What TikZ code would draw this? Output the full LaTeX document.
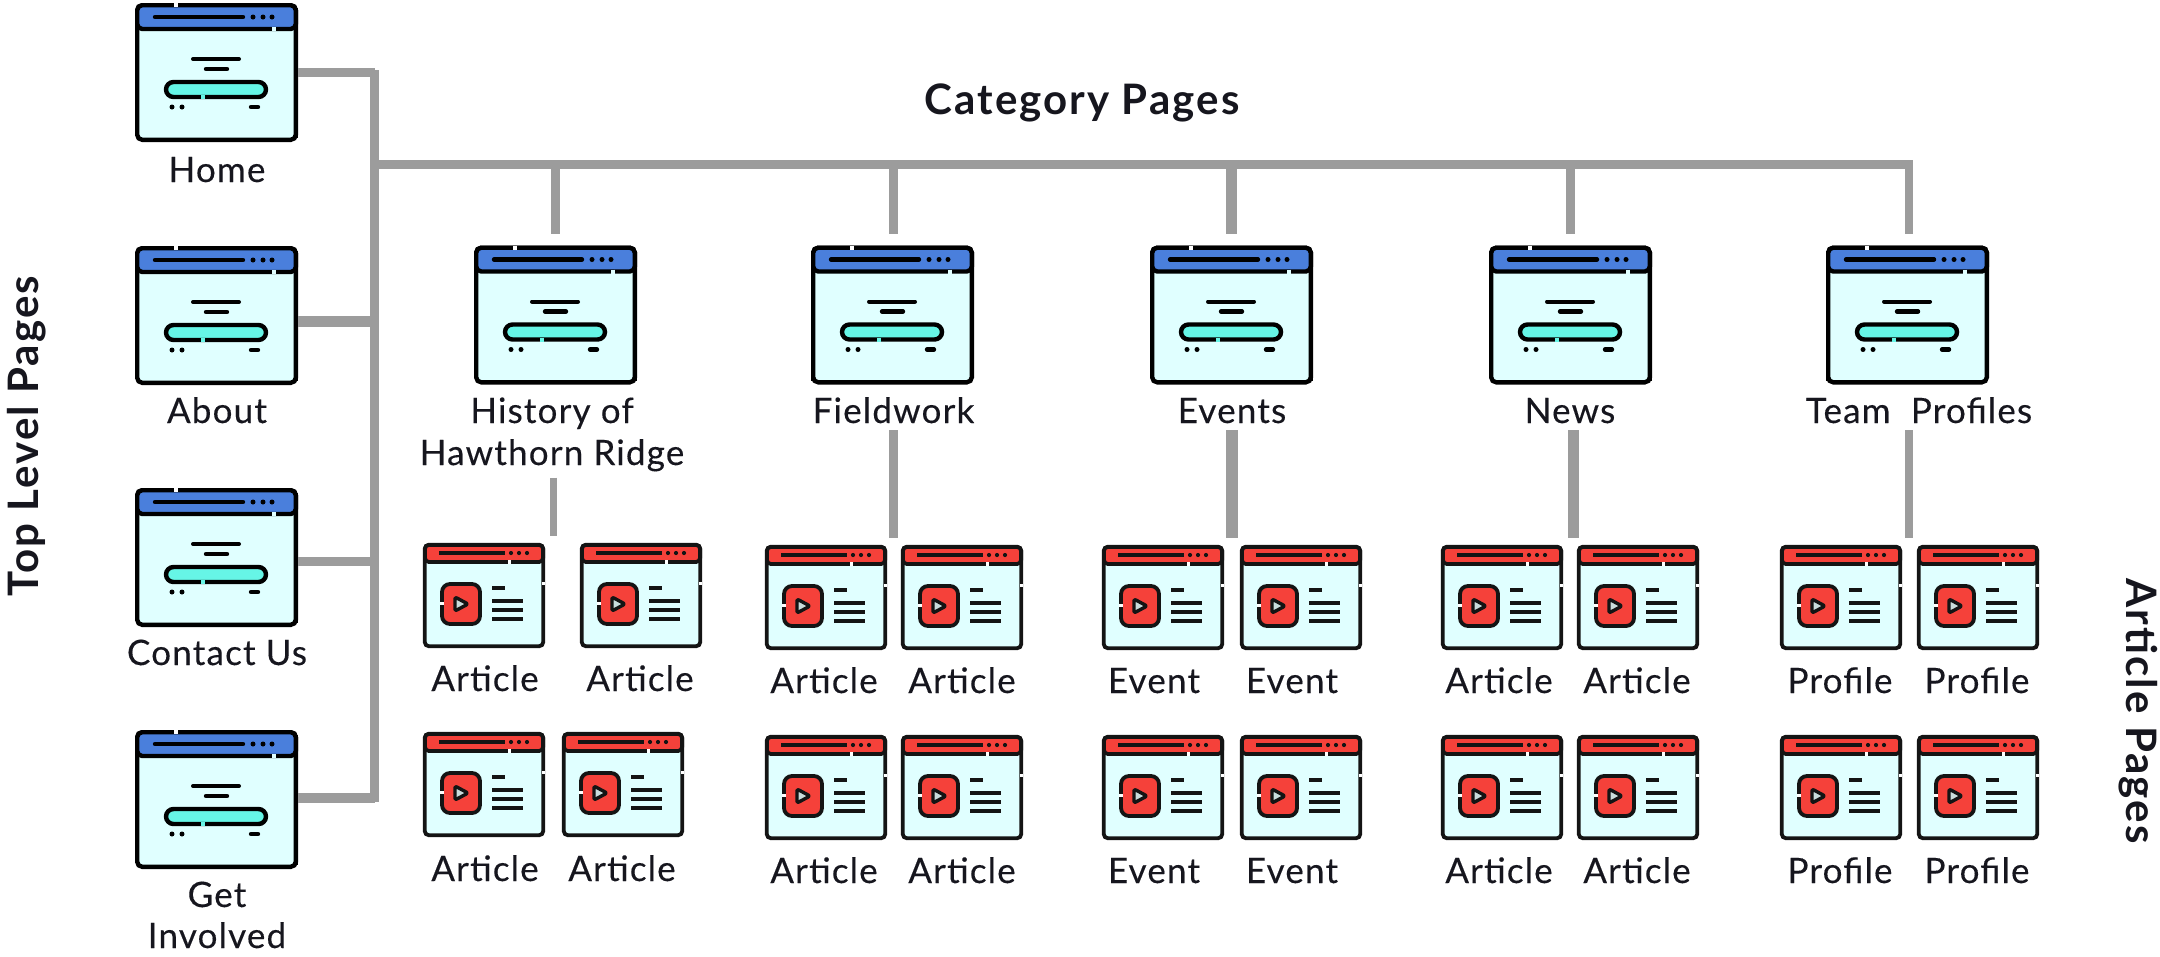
\documentclass[tikz,border=0pt]{standalone}
\usepackage{fontspec}
\setmainfont{Lato}
\newfontfamily\labf[LetterSpace=3.4,FakeBold=0.25]{Lato}
\newfontfamily\headf[LetterSpace=5]{Lato}
\definecolor{bodyc}{HTML}{E0FFFF}
\definecolor{bluec}{HTML}{4A7FDC}
\definecolor{redc}{HTML}{F5413A}
\definecolor{turq}{HTML}{66F5E6}
\definecolor{linkc}{HTML}{9C9C9C}
\definecolor{inkc}{HTML}{141414}
\definecolor{txtc}{HTML}{16161E}
\definecolor{playc}{HTML}{C9DCDC}
\tikzset{
  x=1pt,y=-1pt,
  bigwin/.style={draw=black,line width=4.4pt,fill=bodyc,rounded corners=5pt,minimum width=158.6pt,minimum height=134.6pt,inner sep=0pt,outer sep=2.2pt},
  smallwin/.style={draw=inkc,line width=3.8pt,fill=bodyc,rounded corners=4pt,minimum width=118.4pt,minimum height=101.4pt,inner sep=0pt,outer sep=1.9pt},
  link/.style={draw=linkc,line width=8.5pt},
  lbl/.style={font=\labf\fontsize{35}{42}\selectfont,text=txtc,inner sep=0pt,anchor=base},
  head/.style={font=\headf\fontsize{42}{50}\selectfont\bfseries,text=txtc,inner sep=0pt},
  ik/.style={line width=4pt,line cap=round,draw=black},
  sk/.style={line width=3.4pt,line cap=butt,draw=inkc},
}
\newcommand{\bigicon}[4][161.8]{%
  \node[bigwin] (#2) at ({#3+81.5},{#4+69.5}) {};
  \begin{scope}[shift={(#3,#4)}]
    \draw[fill=bluec,draw=black,line width=4.4pt,rounded corners=5pt] (2.2,26) -- (2.2,2.2) -- (160.8,2.2) -- (160.8,26) -- cycle;
    \draw[black,line width=2.2pt] (#1,5) -- (#1,135);
    \draw[ik,line width=4.4pt] (20,14) -- (108,14);
    \fill (118,14) circle (2.5) (128,14) circle (2.5) (137,14) circle (2.5);
    \draw[white,line width=3.4pt] (41,0) -- (41,4);
    \draw[bodyc,line width=3.4pt] (139,24) -- (139,28);
    \draw[ik] (58,56) -- (104,56);
    \draw[ik,line width=4.4pt] (71,66) -- (92,66);
    \draw[ik,fill=turq,line width=4.4pt,rounded corners=7.5pt] (31,79) rectangle (131,94);
    \draw[turq,line width=3.4pt] (68,92) -- (68,96);
    \fill (37,104) circle (2.5) (47,104) circle (2.5);
    \draw[ik,line width=4.4pt] (116,104) -- (123,104);
  \end{scope}}
\newcommand{\smallicon}[3]{%
  \node[smallwin] (#1) at ({#2+61},{#3+52.5}) {};
  \begin{scope}[shift={(#2,#3)}]
    \draw[fill=redc,draw=inkc,line width=3.8pt,rounded corners=4pt] (1.9,19) -- (1.9,1.9) -- (120.1,1.9) -- (120.1,19) -- cycle;
    \draw[sk] (16,10) -- (82,10);
    \fill[inkc] (88,10) circle (2.1) (96,10) circle (2.1) (104,10) circle (2.1);
    \draw[white,line width=3pt] (86,17) -- (86,21);
    \draw[white,line width=3pt] (118.5,40) -- (122,40);
    \draw[sk,line width=3.8pt,fill=redc,rounded corners=8pt] (19,41) rectangle (57,81);
    \draw[white,line width=3pt] (17,60) -- (21,60);
    \draw[sk,fill=playc,line join=round,rounded corners=2pt] (32,54) -- (45,61) -- (32,68) -- cycle;
    \draw[sk] (69,45) -- (82,45);
    \draw[sk] (69,58) -- (100,58);
    \draw[sk] (69,67) -- (100,67);
    \draw[sk] (69,76) -- (100,76);
  \end{scope}}
\newcommand{\lab}[4]{\node[lbl] (#1) at (#2,#3) {#4};}
\begin{document}
\begin{tikzpicture}
\useasboundingbox (0,0) rectangle (2160,956);
% top-level windows
\bigicon{home}{135}{3}
\bigicon{about}{135}{246}
\bigicon{contact}{135}{488}
\bigicon{involved}{135}{730}
% category windows
\bigicon{hist}{474}{245.5}
\bigicon[1.2]{field}{811}{245.5}
\bigicon{events}{1150}{245.5}
\bigicon{news}{1489}{245.5}
\bigicon[1.2]{team}{1826}{245.5}
% trunk coordinates
\coordinate (spinetop) at (374.5,70);
\coordinate (spinebot) at (374.5,802);
\coordinate (barleft) at (370,164.5);
\coordinate (barright) at (1913,164.5);
\coordinate (histend) at (553.6,536);
\coordinate (fieldend) at (893.5,538);
\coordinate (eventsend) at (1232,538);
\coordinate (newsend) at (1573,538);
\coordinate (teamend) at (1909,538);
% links
\draw[link] (spinetop) -- (spinebot);
\draw[link] (barleft) -- (barright);
\draw[link] (home.east) -- (home.east -| spinetop);
\draw[link,line width=11pt] ([yshift=-5.5pt]about.east) -- ([yshift=-5.5pt]about.east -| spinetop);
\draw[link,line width=9pt] ([yshift=-3.5pt]contact.east) -- ([yshift=-3.5pt]contact.east -| spinetop);
\draw[link,line width=10pt] ([yshift=1.5pt]involved.east) -- ([yshift=1.5pt]involved.east -| spinetop);
\draw[link,shorten >=12pt] (hist.north |- barleft) -- (hist.north);
\draw[link,shorten >=12pt,line width=9.5pt] ([xshift=1pt]field.north |- barleft) -- ([xshift=1pt]field.north);
\draw[link,shorten >=12pt,line width=11pt] (events.north |- barleft) -- (events.north);
\draw[link,shorten >=12pt,line width=9.5pt] (news.north |- barleft) -- (news.north);
\draw[link,shorten >=12pt] ([xshift=1.5pt]team.north |- barleft) -- ([xshift=1.5pt]team.north);
% labels
\node[head] (cat) at (1082,103) {Category Pages};
\node[head,rotate=90] (top) at (27,436) {Top Level Pages};
\node[head,rotate=-90] (art) at (2138,711) {Article Pages};
\lab{homeL}{217}{182}{Home}
\lab{aboutL}{217}{423}{About}
\lab{contactL}{217}{665}{Contact Us}
\lab{getL}{217}{907}{Get}
\lab{involvedL}{217}{948}{Involved}
\lab{histL}{552}{423}{History of}
\lab{hawL}{552}{465}{Hawthorn Ridge}
\lab{fieldL}{893.5}{423}{Fieldwork}
\lab{eventsL}{1232}{423}{Events}
\lab{newsL}{1570}{423}{News}
\lab{teamL}{1919}{423}{Team\ \ Profiles}
\draw[link,line width=7pt,shorten <=6pt] (histend |- hawL.south) -- (histend);
\draw[link,line width=9pt,shorten <=7pt] (fieldend |- fieldL.south) -- (fieldend);
\draw[link,line width=11.5pt,shorten <=7pt] (eventsend |- eventsL.south) -- (eventsend);
\draw[link,line width=11pt,shorten <=7pt] (newsend |- newsL.south) -- (newsend);
\draw[link,shorten <=7pt] (teamend |- teamL.south) -- (teamend);
% article windows
\smallicon{ha}{423}{543}\smallicon{hb}{580}{543}\smallicon{hc}{423}{732}\smallicon{hd}{562}{732}
\smallicon{fa}{765}{545}\smallicon{fb}{901}{545}\smallicon{fc}{765}{735}\smallicon{fd}{901}{735}
\smallicon{ea}{1102}{545}\smallicon{eb}{1240}{545}\smallicon{ec}{1102}{735}\smallicon{ed}{1240}{735}
\smallicon{na}{1441}{545}\smallicon{nb}{1577}{545}\smallicon{nc}{1441}{735}\smallicon{nd}{1577}{735}
\smallicon{ta}{1780}{545}\smallicon{tb}{1917}{545}\smallicon{tc}{1780}{735}\smallicon{td}{1917}{735}
% article labels
\lab{haL}{485}{691}{Article}\lab{hbL}{640}{691}{Article}\lab{hcL}{485}{881}{Article}\lab{hdL}{622}{881}{Article}
\lab{faL}{824}{693}{Article}\lab{fbL}{962}{693}{Article}\lab{fcL}{824}{883}{Article}\lab{fdL}{962}{883}{Article}
\lab{eaL}{1154}{693}{Event}\lab{ebL}{1292}{693}{Event}\lab{ecL}{1154}{883}{Event}\lab{edL}{1292}{883}{Event}
\lab{naL}{1499}{693}{Article}\lab{nbL}{1637}{693}{Article}\lab{ncL}{1499}{883}{Article}\lab{ndL}{1637}{883}{Article}
\lab{taL}{1840}{693}{Profile}\lab{tbL}{1977}{693}{Profile}\lab{tcL}{1840}{883}{Profile}\lab{tdL}{1977}{883}{Profile}
\end{tikzpicture}
\end{document}
